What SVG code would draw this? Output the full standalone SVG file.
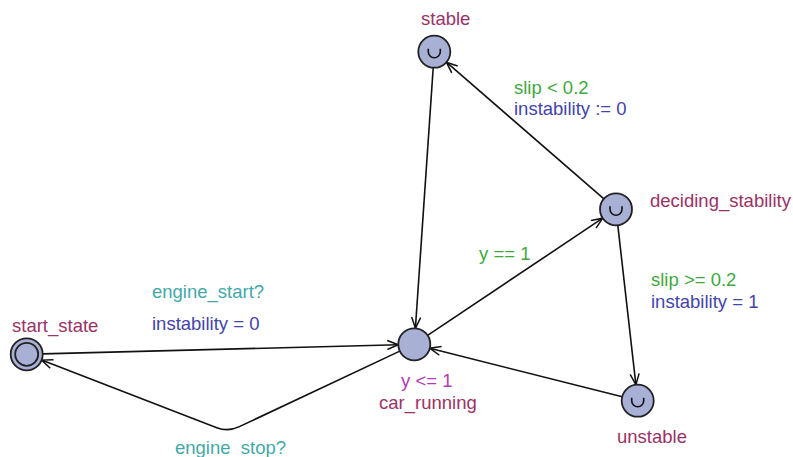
<svg xmlns="http://www.w3.org/2000/svg" width="793" height="457" viewBox="0 0 793 457">
<style>
text{font-family:"Liberation Sans",Arial,sans-serif;font-size:18.5px}
.name{fill:#993366}
.guard{fill:#40a840}
.sync{fill:#44a8a8}
.assign{fill:#4444aa}
.inv{fill:#b03cb0}
.loc{fill:#a8b0d6;stroke:#222;stroke-width:1.8}
.urg{fill:none;stroke:#111;stroke-width:1.6}
.edge{fill:none;stroke:#111;stroke-width:1.6;marker-end:url(#arr)}
</style>
<defs>
<marker id="arr" markerUnits="userSpaceOnUse" viewBox="-13 -7 15 14" refX="0" refY="0" markerWidth="15" markerHeight="14" orient="auto">
<path d="M-11,-4.5 L0,0 L-11,4.5" fill="none" stroke="#111" stroke-width="1.5"/>
</marker>
</defs>
<rect width="793" height="457" fill="#fff"/>
<g id="connectors">
<path class="edge" d="M42.7,353.9 L398.3,344.7"/>
<path class="edge" d="M399.8,351.1 L238.8,426.9 Q228,432 216.8,427.7 L41.6,360.1"/>
<path class="edge" d="M433.2,67.7 L415.4,328.3"/>
<path class="edge" d="M427.6,335.4 L602.7,218.2"/>
<path class="edge" d="M603.9,198.8 L446.4,62.2"/>
<path class="edge" d="M617.8,225.2 L635.9,384.8"/>
<path class="edge" d="M622.2,396.8 L429.8,348.2"/>
<text class="guard" x="514" y="94">slip &lt; 0.2</text>
<text class="assign" x="514" y="115">instability := 0</text>
<text class="guard" x="651" y="286">slip &gt;= 0.2</text>
<text class="assign" x="651" y="308">instability = 1</text>
<text class="guard" x="479" y="260">y == 1</text>
<text class="sync" x="152" y="298">engine_start?</text>
<text class="assign" x="152" y="330">instability = 0</text>
<text class="sync" x="175" y="454">engine_stop?</text>
</g>
<g id="stable">
<circle class="loc" cx="434.3" cy="51.7" r="16"/>
<path class="urg" d="M428.3,48.7 V51.7 A6,6 0 0 0 440.3,51.7 V48.7"/>
<text class="name" x="421" y="25">stable</text>
</g>
<g id="start_state">
<circle class="loc" cx="26.7" cy="354.3" r="16"/>
<circle class="loc" cx="26.7" cy="354.3" r="11.5"/>
<text class="name" x="12" y="332">start_state</text>
</g>
<g id="car_running">
<circle class="loc" cx="414.3" cy="344.3" r="16"/>
<text class="inv" x="401" y="387">y &lt;= 1</text>
<text class="name" x="379" y="409">car_running</text>
</g>
<g id="deciding_stability">
<circle class="loc" cx="616" cy="209.3" r="16"/>
<path class="urg" d="M610,206.3 V209.3 A6,6 0 0 0 622,209.3 V206.3"/>
<text class="name" x="650" y="207">deciding_stability</text>
</g>
<g id="unstable">
<circle class="loc" cx="637.7" cy="400.7" r="16"/>
<path class="urg" d="M631.7,397.7 V400.7 A6,6 0 0 0 643.7,400.7 V397.7"/>
<text class="name" x="617" y="443">unstable</text>
</g>
</svg>
